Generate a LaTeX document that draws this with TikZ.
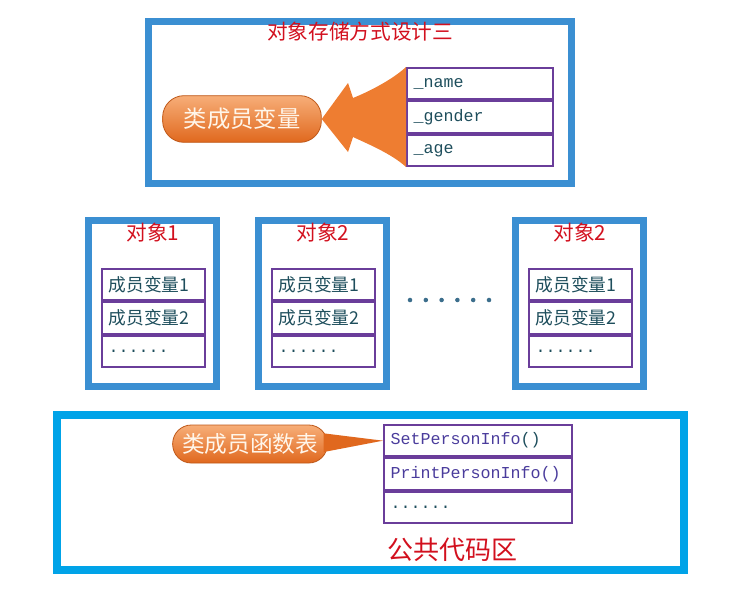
\documentclass[tikz,border=0pt]{standalone}
\usepackage{fontspec}
\setmainfont{Liberation Serif}
\setmonofont{Liberation Mono}
\newfontfamily\cjk{Noto Sans CJK SC}
\usepackage{tikz}
\usetikzlibrary{calc}

\definecolor{boxblue}{HTML}{3B8FD2}
\definecolor{areablue}{HTML}{00A3E8}
\definecolor{cellline}{HTML}{6A3D9A}
\definecolor{celltext}{HTML}{1E4E5C}
\definecolor{fntext}{HTML}{4A3C9C}
\definecolor{titlered}{HTML}{D2101E}
\definecolor{pilltop}{HTML}{F7AE78}
\definecolor{pillbot}{HTML}{E0681E}
\definecolor{pilltext}{HTML}{FFF6EA}
\definecolor{arroworange}{HTML}{EE7D31}
\definecolor{dotblue}{HTML}{3C6E8C}

\tikzset{
  objbox/.style={draw=boxblue, line width=5.25pt},
  areabox/.style={draw=areablue, line width=6pt},
  cell/.style={draw=cellline, line width=1.4pt, rectangle, anchor=north west,
    minimum height=23.6pt, inner xsep=5pt, inner ysep=0pt, align=left, text=celltext},
  monotext/.style={font=\ttfamily\fontsize{12.5}{14}\selectfont},
  cjktext/.style={font=\cjk\fontsize{13.3}{15}\selectfont},
  pill/.style={rectangle, draw=pillbot!85!black, line width=0.6pt,
    top color=pilltop, bottom color=pillbot, text=pilltext, inner sep=0pt},
  title/.style={text=titlered, font=\cjk\fontsize{15.5}{17}\selectfont},
}

\begin{document}
\begin{tikzpicture}[x=0.75pt, y=-0.75pt]
	\useasboundingbox (0,0) rectangle (742,590);
	% Top: storage layout
	\draw[objbox] (148,21) rectangle (571,183);
	\node[title] (toptitle) at (360,32) {对象存储方式设计三};
	\node[cell, monotext, text width=99.5pt] (nm) at (406,67) {\_name};
	\node[cell, monotext, text width=99.5pt] (gd) at (nm.south west) {\_gender};
	\node[cell, monotext, text width=99.5pt] (ag) at (gd.south west) {\_age};
	\node[pill, rounded corners=16pt, minimum width=119pt, minimum height=35pt,
	  font=\cjk\fontsize{17.5}{19}\selectfont] (pillvar) at (242,119) {类成员变量};
	\fill[arroworange] (nm.north west) .. controls (392,80) and (368,92) .. (353,98)
	  -- (348,83) -- (pillvar.east) -- (348,152) -- (353,137)
	  .. controls (368,144) and (392,154) .. (ag.south west) -- cycle;

	% Middle: objects
	\foreach \ox/\num/\id in {85/1/a, 255/2/b, 512/2/c} {
		\draw[objbox] (\ox+3.5,220.5) rectangle (\ox+131.5,386.5);
		\node[title] (obj\id) at (\ox+68,233) {对象\num};
		\node[cell, cjktext, text width=67pt] (\id1) at (\ox+16,268) {成员变量1};
		\node[cell, cjktext, text width=67pt] (\id2) at (\id1.south west) {成员变量2};
		\node[cell, monotext, text width=67pt] (\id3) at (\id2.south west) {......};
	}
	\foreach \i in {0,...,5}
		\fill[dotblue] (410+\i*15.8,300) circle (1.7pt);

	% Bottom: shared code area
	\draw[areabox] (57,415) rectangle (684,570);
	\node[cell, monotext, text=fntext, text width=131pt] (sp) at (383,424) {SetPersonInfo\textcolor{celltext}{()}};
	\node[cell, monotext, text=fntext, text width=131pt] (pp) at (sp.south west) {PrintPersonInfo()};
	\node[cell, monotext, text width=131pt] (etc) at (pp.south west) {......};
	\node[pill, rounded corners=14pt, minimum width=116pt, minimum height=28.5pt,
	  font=\cjk\fontsize{17}{19}\selectfont] (pillfn) at (250,444) {类成员函数表};
	\fill[pillbot] ([xshift=-3pt,yshift=8pt]pillfn.east) -- (sp.west)
	  -- ([xshift=-3pt,yshift=-6pt]pillfn.east) -- cycle;
	\node[text=titlered, font=\cjk\fontsize{19.5}{21}\selectfont] (area) at (452,550) {公共代码区};
\end{tikzpicture}
\end{document}
